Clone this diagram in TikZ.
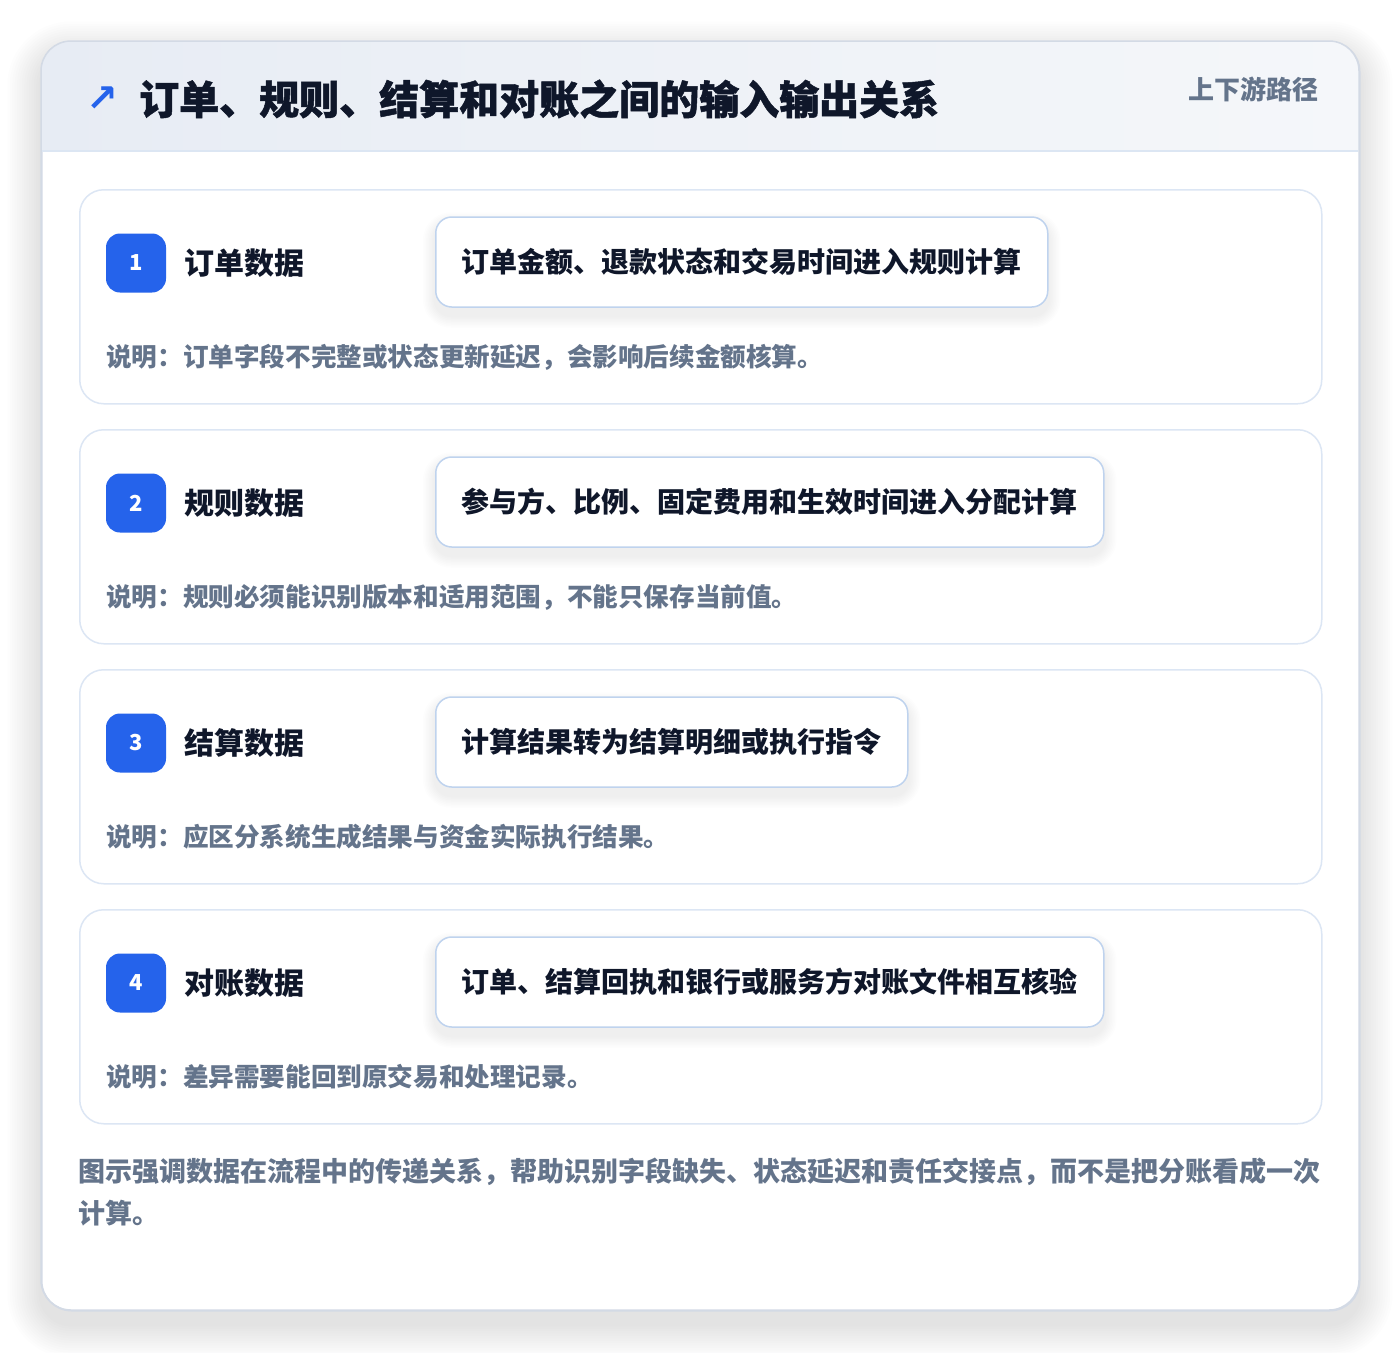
\documentclass[tikz,border=0pt]{standalone}
\usepackage{fontspec}
\setmainfont{Noto Sans CJK SC}
\newfontfamily\heavyfont{Noto Sans CJK SC}[BoldFeatures={FakeBold=1.2}]
\newfontfamily\symfont{DejaVu Sans}
\definecolor{cardborder}{HTML}{D3DAE5}
\definecolor{rowborder}{HTML}{DCE6F4}
\definecolor{boxborder}{HTML}{BFD3EE}
\definecolor{hdrL}{HTML}{E7ECF4}
\definecolor{hdrR}{HTML}{F5F7FA}
\definecolor{hdrline}{HTML}{DCE6F3}
\definecolor{badgeblue}{HTML}{2563EB}
\definecolor{darktext}{HTML}{0F172A}
\definecolor{graytext}{HTML}{64748B}
\definecolor{shadowc}{HTML}{3A3F4A}
\tikzset{
  rowcard/.style={draw=rowborder, line width=1.5pt, fill=white, rounded corners=24pt,
    minimum width=1242pt, minimum height=214pt, anchor=north west, inner sep=0pt},
  badge/.style={fill=badgeblue, rounded corners=14pt, minimum width=60pt, minimum height=59pt,
    inner sep=0pt, text=white, font=\bfseries\fontsize{22}{26}\selectfont},
  rowlabel/.style={anchor=west, inner sep=0pt, text=darktext, font=\bfseries\fontsize{30}{36}\selectfont},
  flowbox/.style={draw=boxborder, line width=1.5pt, fill=white, rounded corners=16pt,
    anchor=west, inner xsep=26pt, minimum height=90pt, text=darktext,
    font=\bfseries\fontsize{28}{34}\selectfont},
  desc/.style={anchor=west, inner sep=0pt, text=graytext, font=\bfseries\fontsize{25.6}{30}\selectfont},
}
\begin{document}
\begin{tikzpicture}[x=1pt,y=-1pt]
\useasboundingbox (0,0) rectangle (1400,1352);
\fill[white] (0,0) rectangle (1400,1352);
% soft shadow of the main card
\foreach \k in {1,...,14}{
  \fill[shadowc, opacity=0.0065, rounded corners={30pt+\k*2.4pt}]
    (41-\k*2.4,41-\k*2.4+14) rectangle (1359+\k*2.4,1310+\k*2.4+14);
}
% main card
\node[draw=cardborder, line width=1.5pt, fill=white, rounded corners=30pt,
  minimum width=1318pt, minimum height=1269pt, anchor=north west, inner sep=0pt]
  (card) at (41,41) {};
\begin{scope}
  \clip[rounded corners=30pt] (41,41) rectangle (1359,1310);
  \fill[left color=hdrL, right color=hdrR] (41,41) rectangle (1359,151);
\end{scope}
\draw[hdrline, line width=1.5pt] (42,151) -- (1358,151);
\draw[cardborder, line width=1.5pt, rounded corners=30pt] (41,41) rectangle (1359,1310);
% header
\node[anchor=center, inner sep=0pt, text=badgeblue, font=\symfont\bfseries\fontsize{38}{42}\selectfont] (icon) at (102,99) {↗};
\node[anchor=west, inner sep=0pt, text=darktext, font=\heavyfont\bfseries\fontsize{40}{46}\selectfont] (title) at (139,99) {订单、规则、结算和对账之间的输入输出关系};
\node[anchor=east, inner sep=0pt, text=graytext, font=\bfseries\fontsize{26}{30}\selectfont] (tag) at (1319,89) {上下游路径};
% rows
\foreach \i/\top/\lab/\btext/\des in {
  1/189/订单数据/订单金额、退款状态和交易时间进入规则计算/说明：订单字段不完整或状态更新延迟，会影响后续金额核算。,
  2/429/规则数据/参与方、比例、固定费用和生效时间进入分配计算/说明：规则必须能识别版本和适用范围，不能只保存当前值。,
  3/669/结算数据/计算结果转为结算明细或执行指令/说明：应区分系统生成结果与资金实际执行结果。,
  4/909/对账数据/订单、结算回执和银行或服务方对账文件相互核验/说明：差异需要能回到原交易和处理记录。}{
  \node[rowcard] (row\i) at (79,\top) {};
  \node[badge] (badge\i) at (136,\top+74) {\i};
  \node[rowlabel] (label\i) at (184,\top+74) {\lab};
  \path (435,\top+73) node[flowbox, opacity=0] (probe\i) {\btext};
  \foreach \k in {1,...,8}{
    \fill[shadowc, opacity=0.006, rounded corners={16pt+\k*1.5pt}]
      ([xshift=-\k*1.5pt, yshift=\k*1.5pt-8pt]probe\i.north west) rectangle
      ([xshift=\k*1.5pt, yshift=-\k*1.5pt-8pt]probe\i.south east);
  }
  \node[flowbox] (box\i) at (435,\top+73) {\btext};
  \node[desc] (desc\i) at (106,\top+168) {\des};
}
% footer
\node[anchor=north west, inner sep=0pt, align=left, text=graytext,
  font=\bfseries\fontsize{27}{42}\selectfont] (footer) at (78,1158)
  {图示强调数据在流程中的传递关系，帮助识别字段缺失、状态延迟和责任交接点，而不是把分账看成一次\\计算。};
\end{tikzpicture}
\end{document}
